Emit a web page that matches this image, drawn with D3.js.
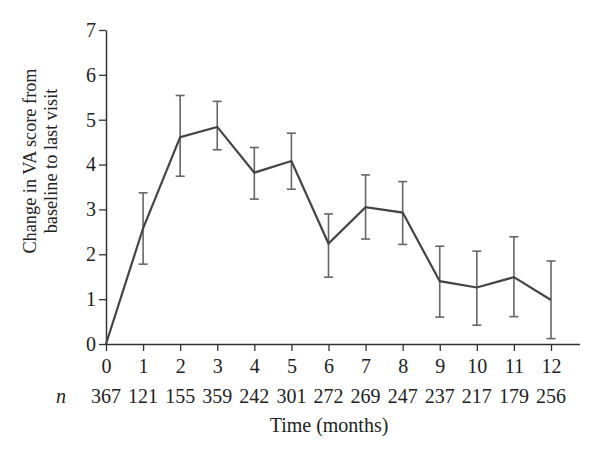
<!DOCTYPE html>
<html>
<head>
<meta charset="utf-8">
<script src="https://cdn.jsdelivr.net/npm/d3@7"></script>
<style>
  html, body { margin: 0; padding: 0; background: #fff; }
  svg { display: block; }
  text { font-family: "Liberation Serif", "DejaVu Serif", serif; fill: #222; }
</style>
</head>
<body>
<svg id="chart" width="600" height="456"></svg>
<script>
const months = [0,1,2,3,4,5,6,7,8,9,10,11,12];
const meanChange = [0, 2.58, 4.61, 4.84, 3.82, 4.08, 2.24, 3.05, 2.93, 1.40, 1.26, 1.49, 0.98];
const upperBar = [null, 3.37, 5.54, 5.41, 4.38, 4.70, 2.90, 3.77, 3.62, 2.18, 2.07, 2.39, 1.85];
const lowerBar = [null, 1.78, 3.74, 4.33, 3.23, 3.45, 1.49, 2.34, 2.22, 0.60, 0.42, 0.61, 0.12];
const nCounts = [367,121,155,359,242,301,272,269,247,237,217,179,256];
const yTicks = [0,1,2,3,4,5,6,7];

const svg = d3.select("#chart");
const x = d3.scaleLinear().domain([0, 12]).range([106, 551]);
const y = d3.scaleLinear().domain([0, 7]).range([344, 30]);
const axisColor = "#333";
const fs = 20;

// X axis
const gx = svg.append("g").attr("transform", `translate(0,${y(0)})`)
  .call(d3.axisBottom(x).tickValues(months).tickSize(7).tickSizeOuter(0).tickPadding(8).tickFormat(d3.format("d")));
gx.select(".domain").attr("d", `M${x(0)},0.5H${x(12) + 29}`).attr("stroke", axisColor).attr("stroke-width", 1.5);
gx.selectAll(".tick line").attr("stroke", axisColor).attr("stroke-width", 1.3);
gx.selectAll(".tick text").attr("font-size", fs).attr("font-family", "Liberation Serif").attr("fill", "#222");

// Y axis
const gy = svg.append("g").attr("transform", `translate(${x(0)},0)`)
  .call(d3.axisLeft(y).tickValues(yTicks).tickSize(7).tickSizeOuter(0).tickPadding(3).tickFormat(d3.format("d")));
gy.select(".domain").attr("stroke", axisColor).attr("stroke-width", 1.5);
gy.selectAll(".tick line").attr("stroke", axisColor).attr("stroke-width", 1.3);
gy.selectAll(".tick text").attr("font-size", fs).attr("font-family", "Liberation Serif").attr("fill", "#222");

// n row
svg.append("text").attr("x", 61).attr("y", 403).attr("text-anchor", "middle")
  .attr("font-size", fs).attr("font-style", "italic").text("n");
svg.append("g").selectAll("text").data(nCounts).join("text")
  .attr("x", (d, i) => x(months[i])).attr("y", 403).attr("text-anchor", "middle")
  .attr("font-size", fs).text(d => d);

// X title
svg.append("text").attr("x", (x(0) + x(12)) / 2 + 0.5).attr("y", 432).attr("text-anchor", "middle")
  .attr("font-size", fs).text("Time (months)");

// Y title
const yt = svg.append("text").attr("transform", "translate(36,161) rotate(-90)")
  .attr("text-anchor", "middle").attr("font-size", 18.3);
yt.append("tspan").attr("x", 0).attr("y", 0).text("Change in VA score from");
yt.append("tspan").attr("x", 0).attr("y", 20.5).text("baseline to last visit");

// Error bars
const errData = months.map((m, i) => ({m, lo: lowerBar[i], hi: upperBar[i]})).filter(d => d.hi !== null);
const eb = svg.append("g").attr("stroke", "#666").attr("stroke-width", 1.6).attr("fill", "none");
const capW = 4.5;
errData.forEach(d => {
  eb.append("line").attr("x1", x(d.m)).attr("x2", x(d.m)).attr("y1", y(d.lo)).attr("y2", y(d.hi));
  eb.append("line").attr("x1", x(d.m) - capW).attr("x2", x(d.m) + capW).attr("y1", y(d.hi)).attr("y2", y(d.hi));
  eb.append("line").attr("x1", x(d.m) - capW).attr("x2", x(d.m) + capW).attr("y1", y(d.lo)).attr("y2", y(d.lo));
});

// Mean line
const line = d3.line().x((d, i) => x(months[i])).y(d => y(d));
svg.append("path").datum(meanChange).attr("d", line)
  .attr("fill", "none").attr("stroke", "#444").attr("stroke-width", 2.2).attr("stroke-linejoin", "miter");
</script>
</body>
</html>
